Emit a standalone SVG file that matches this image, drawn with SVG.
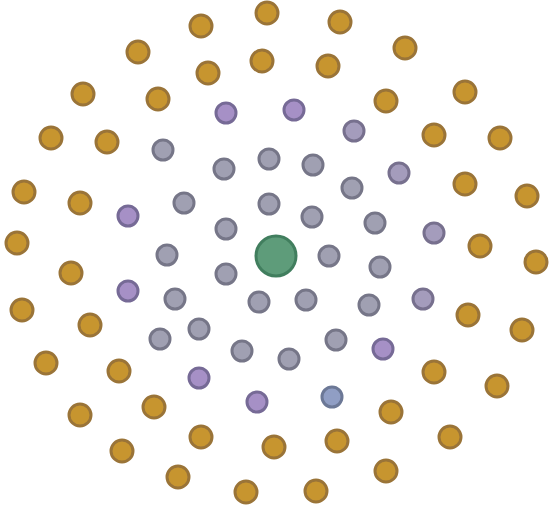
<svg xmlns="http://www.w3.org/2000/svg" width="553" height="509" viewBox="0 0 553 509">
<style>
.o{fill:#c7952f;stroke:#9a7438;stroke-width:3}
.g{fill:#a0a0b2;stroke:#767688;stroke-width:3}
.p{fill:#a690c6;stroke:#766a96;stroke-width:3}
.q{fill:#a49cbc;stroke:#77708e;stroke-width:3}
.b{fill:#909ec4;stroke:#6c7896;stroke-width:3}
.c{fill:#5e9c7a;stroke:#417e5e;stroke-width:3}
</style>
<rect width="553" height="509" fill="#ffffff"/>
<g id="center"><circle class="c" cx="276" cy="256" r="20"/></g>
<g id="inner">
<g id="n1"><circle class="p" cx="226" cy="113" r="10"/></g>
<g id="n2"><circle class="p" cx="294" cy="110" r="10"/></g>
<g id="n3"><circle class="p" cx="128" cy="216" r="10"/></g>
<g id="n4"><circle class="p" cx="128" cy="291" r="10"/></g>
<g id="n5"><circle class="p" cx="199" cy="378" r="10"/></g>
<g id="n6"><circle class="p" cx="257" cy="402" r="10"/></g>
<g id="n7"><circle class="p" cx="383" cy="349" r="10"/></g>
<g id="n8"><circle class="q" cx="354" cy="131" r="10"/></g>
<g id="n9"><circle class="q" cx="399" cy="173" r="10"/></g>
<g id="n10"><circle class="q" cx="434" cy="233" r="10"/></g>
<g id="n11"><circle class="q" cx="423" cy="299" r="10"/></g>
<g id="n12"><circle class="g" cx="163" cy="150" r="10"/></g>
<g id="n13"><circle class="g" cx="269" cy="159" r="10"/></g>
<g id="n14"><circle class="g" cx="313" cy="165" r="10"/></g>
<g id="n15"><circle class="g" cx="224" cy="169" r="10"/></g>
<g id="n16"><circle class="g" cx="352" cy="188" r="10"/></g>
<g id="n17"><circle class="g" cx="184" cy="203" r="10"/></g>
<g id="n18"><circle class="g" cx="269" cy="204" r="10"/></g>
<g id="n19"><circle class="g" cx="312" cy="217" r="10"/></g>
<g id="n20"><circle class="g" cx="226" cy="229" r="10"/></g>
<g id="n21"><circle class="g" cx="375" cy="223" r="10"/></g>
<g id="n22"><circle class="g" cx="167" cy="255" r="10"/></g>
<g id="n23"><circle class="g" cx="329" cy="256" r="10"/></g>
<g id="n24"><circle class="g" cx="380" cy="267" r="10"/></g>
<g id="n25"><circle class="g" cx="226" cy="274" r="10"/></g>
<g id="n26"><circle class="g" cx="175" cy="299" r="10"/></g>
<g id="n27"><circle class="g" cx="259" cy="302" r="10"/></g>
<g id="n28"><circle class="g" cx="306" cy="300" r="10"/></g>
<g id="n29"><circle class="g" cx="369" cy="305" r="10"/></g>
<g id="n30"><circle class="g" cx="199" cy="329" r="10"/></g>
<g id="n31"><circle class="g" cx="160" cy="339" r="10"/></g>
<g id="n32"><circle class="g" cx="242" cy="351" r="10"/></g>
<g id="n33"><circle class="g" cx="289" cy="359" r="10"/></g>
<g id="n34"><circle class="g" cx="336" cy="340" r="10"/></g>
<g id="n35"><circle class="b" cx="332" cy="397" r="10"/></g>
</g>
<g id="outer">
<g id="o1"><circle class="o" cx="267" cy="13" r="11"/></g>
<g id="o2"><circle class="o" cx="340" cy="22" r="11"/></g>
<g id="o3"><circle class="o" cx="201" cy="26" r="11"/></g>
<g id="o4"><circle class="o" cx="138" cy="52" r="11"/></g>
<g id="o5"><circle class="o" cx="405" cy="48" r="11"/></g>
<g id="o6"><circle class="o" cx="262" cy="61" r="11"/></g>
<g id="o7"><circle class="o" cx="328" cy="66" r="11"/></g>
<g id="o8"><circle class="o" cx="208" cy="73" r="11"/></g>
<g id="o9"><circle class="o" cx="83" cy="94" r="11"/></g>
<g id="o10"><circle class="o" cx="158" cy="99" r="11"/></g>
<g id="o11"><circle class="o" cx="465" cy="92" r="11"/></g>
<g id="o12"><circle class="o" cx="386" cy="101" r="11"/></g>
<g id="o13"><circle class="o" cx="51" cy="138" r="11"/></g>
<g id="o14"><circle class="o" cx="107" cy="142" r="11"/></g>
<g id="o15"><circle class="o" cx="434" cy="135" r="11"/></g>
<g id="o16"><circle class="o" cx="500" cy="138" r="11"/></g>
<g id="o17"><circle class="o" cx="24" cy="192" r="11"/></g>
<g id="o18"><circle class="o" cx="80" cy="203" r="11"/></g>
<g id="o19"><circle class="o" cx="465" cy="184" r="11"/></g>
<g id="o20"><circle class="o" cx="527" cy="196" r="11"/></g>
<g id="o21"><circle class="o" cx="17" cy="243" r="11"/></g>
<g id="o22"><circle class="o" cx="71" cy="273" r="11"/></g>
<g id="o23"><circle class="o" cx="480" cy="246" r="11"/></g>
<g id="o24"><circle class="o" cx="536" cy="262" r="11"/></g>
<g id="o25"><circle class="o" cx="22" cy="310" r="11"/></g>
<g id="o26"><circle class="o" cx="90" cy="325" r="11"/></g>
<g id="o27"><circle class="o" cx="468" cy="315" r="11"/></g>
<g id="o28"><circle class="o" cx="522" cy="330" r="11"/></g>
<g id="o29"><circle class="o" cx="46" cy="363" r="11"/></g>
<g id="o30"><circle class="o" cx="119" cy="371" r="11"/></g>
<g id="o31"><circle class="o" cx="434" cy="372" r="11"/></g>
<g id="o32"><circle class="o" cx="497" cy="386" r="11"/></g>
<g id="o33"><circle class="o" cx="80" cy="415" r="11"/></g>
<g id="o34"><circle class="o" cx="154" cy="407" r="11"/></g>
<g id="o35"><circle class="o" cx="391" cy="412" r="11"/></g>
<g id="o36"><circle class="o" cx="450" cy="437" r="11"/></g>
<g id="o37"><circle class="o" cx="122" cy="451" r="11"/></g>
<g id="o38"><circle class="o" cx="201" cy="437" r="11"/></g>
<g id="o39"><circle class="o" cx="274" cy="447" r="11"/></g>
<g id="o40"><circle class="o" cx="337" cy="441" r="11"/></g>
<g id="o41"><circle class="o" cx="178" cy="477" r="11"/></g>
<g id="o42"><circle class="o" cx="246" cy="492" r="11"/></g>
<g id="o43"><circle class="o" cx="316" cy="491" r="11"/></g>
<g id="o44"><circle class="o" cx="386" cy="471" r="11"/></g>
</g>
</svg>
